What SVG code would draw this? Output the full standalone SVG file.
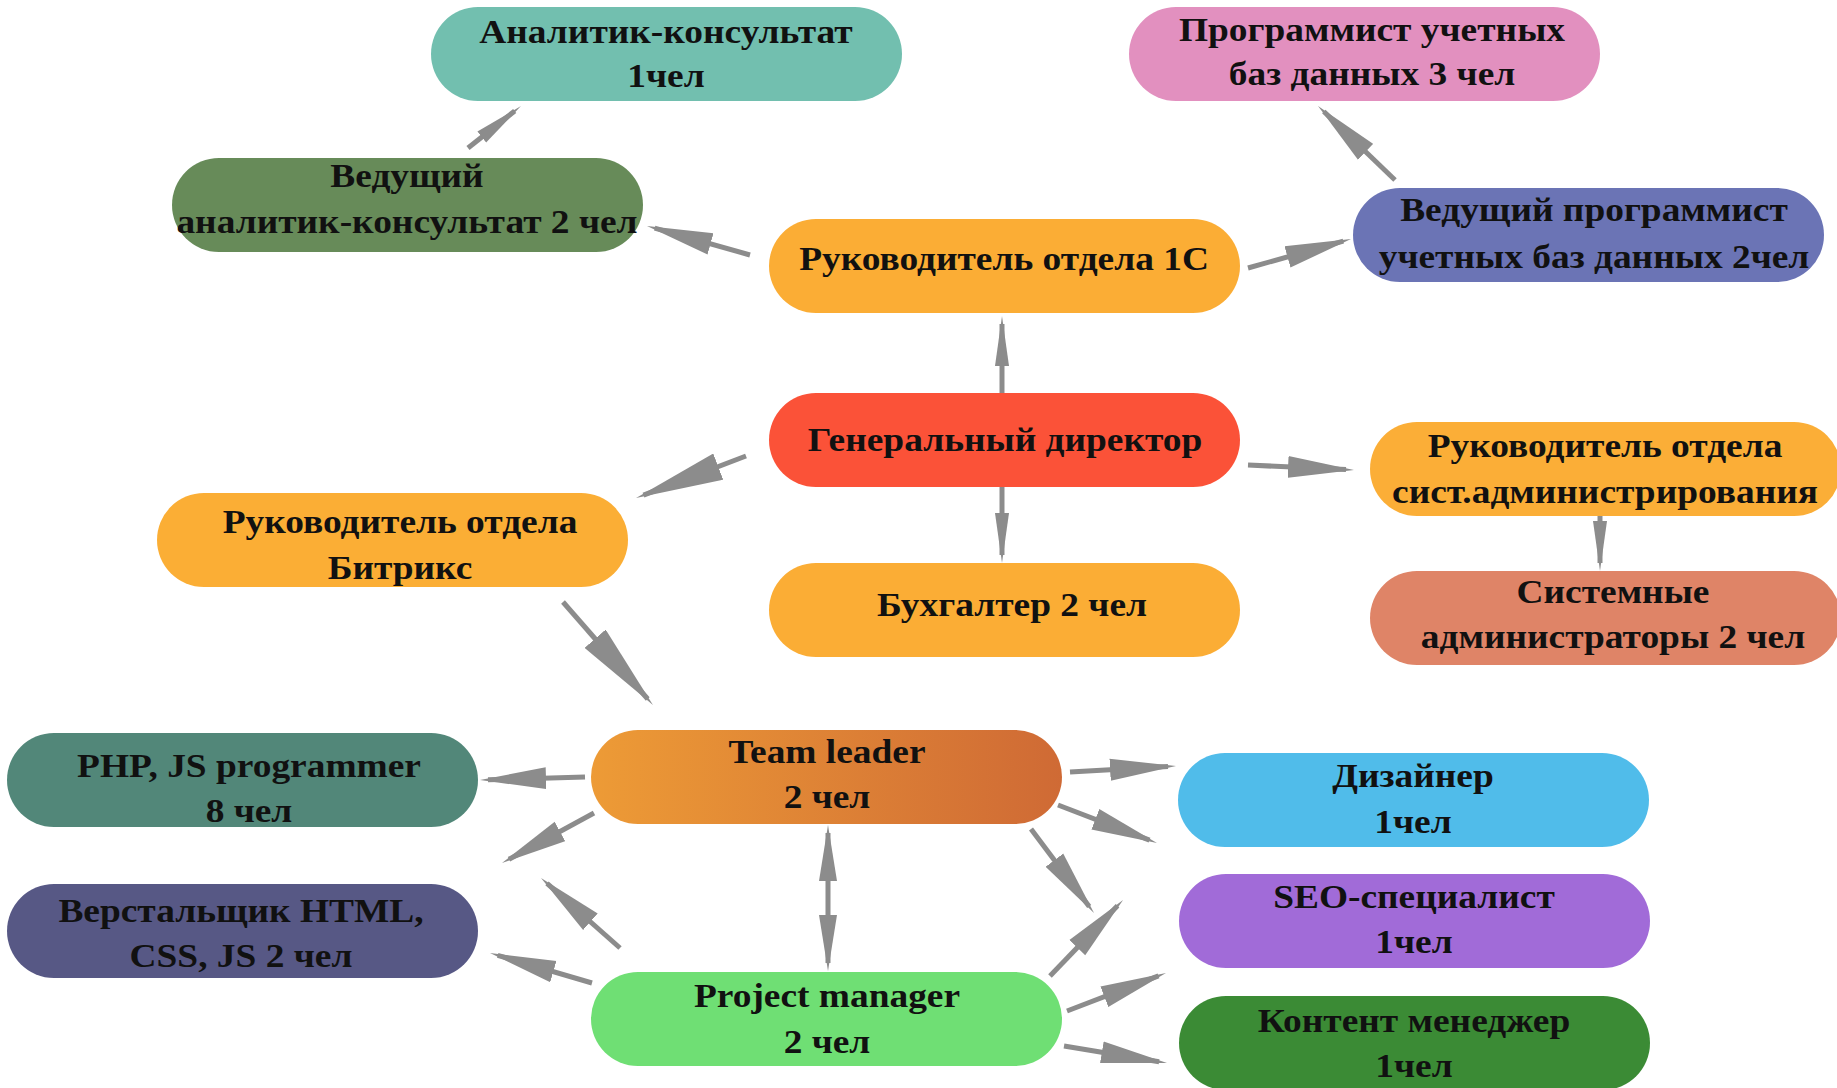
<svg xmlns="http://www.w3.org/2000/svg" width="1837" height="1088" viewBox="0 0 1837 1088">
<style>
.node rect{stroke:none}
.node text{font-family:"Liberation Serif","Times New Roman",serif;font-weight:bold;font-size:34px;fill:#111;text-anchor:middle}
.edge{fill:none;stroke:#8c8c8c;stroke-width:5}
</style>
<defs>
<linearGradient id="gTL" x1="0" y1="0" x2="1" y2="0">
<stop offset="0" stop-color="#ED9B36"/>
<stop offset="1" stop-color="#CF6A35"/>
</linearGradient>
<marker id="ah" markerUnits="userSpaceOnUse" markerWidth="66" markerHeight="24" viewBox="0 0 66 24" refX="58" refY="12" orient="auto"><path d="M0,1 L66,12 L0,23 Z" fill="#8c8c8c"/></marker>
<marker id="ad" markerUnits="userSpaceOnUse" markerWidth="56" markerHeight="20" viewBox="0 0 56 20" refX="48" refY="10" orient="auto-start-reverse"><path d="M0,1 L56,10 L0,19 Z" fill="#8c8c8c"/></marker>
<marker id="al" markerUnits="userSpaceOnUse" markerWidth="88" markerHeight="28" viewBox="0 0 88 28" refX="80" refY="14" orient="auto"><path d="M0,0 L88,14 L0,28 Z" fill="#8c8c8c"/></marker>
<marker id="av" markerUnits="userSpaceOnUse" markerWidth="50" markerHeight="16" viewBox="0 0 50 16" refX="42" refY="8" orient="auto"><path d="M0,1 L50,8 L0,15 Z" fill="#8c8c8c"/></marker>
</defs>
<rect width="1837" height="1088" fill="#fff"/>
<g id="connectors">
<path class="edge" d="M468,148 L514.7,111" marker-end="url(#av)"/>
<path class="edge" d="M750,255 L654.7,228.2" marker-end="url(#ah)"/>
<path class="edge" d="M1248,268 L1343.3,241.2" marker-end="url(#ah)"/>
<path class="edge" d="M1395,180 L1323.8,111.5" marker-end="url(#ah)"/>
<path class="edge" d="M1002,393 L1002,324" marker-end="url(#av)"/>
<path class="edge" d="M1002,487 L1002,555" marker-end="url(#av)"/>
<path class="edge" d="M746,456 L643.5,495.1" marker-end="url(#al)"/>
<path class="edge" d="M1248,465 L1346,469.6" marker-end="url(#ah)"/>
<path class="edge" d="M1600,516 L1600,563" marker-end="url(#av)"/>
<path class="edge" d="M563,602 L647.7,699" marker-end="url(#al)"/>
<path class="edge" d="M585,777 L488,779.8" marker-end="url(#ah)"/>
<path class="edge" d="M594,813 L509,859.2" marker-end="url(#ah)"/>
<path class="edge" d="M620,948 L547,883.3" marker-end="url(#ah)"/>
<path class="edge" d="M592,983 L497.7,955.3" marker-end="url(#ah)"/>
<path class="edge" d="M828,833 L828,963" marker-start="url(#ad)" marker-end="url(#ad)"/>
<path class="edge" d="M1070,772 L1168,766.5" marker-end="url(#ah)"/>
<path class="edge" d="M1058,805 L1149.5,840.1" marker-end="url(#ah)"/>
<path class="edge" d="M1031,829 L1089.2,906.6" marker-end="url(#ah)"/>
<path class="edge" d="M1050,976 L1117.5,905.8" marker-end="url(#ah)"/>
<path class="edge" d="M1067,1011 L1158.5,975.9" marker-end="url(#ah)"/>
<path class="edge" d="M1064,1046 L1159.1,1061.7" marker-end="url(#ah)"/>
</g>
<g id="n-analitik" class="node"><rect x="431" y="7" width="471" height="94" rx="47" fill="#72BFAF"/>
<text transform="translate(666,0) scale(1.1,1)"><tspan x="0" y="43">Аналитик-консультат</tspan><tspan x="0" y="87">1чел</tspan></text></g>
<g id="n-ved-analitik" class="node"><rect x="172" y="158" width="471" height="94" rx="47" fill="#678B59"/>
<text transform="translate(407,0) scale(1.1,1)"><tspan x="0" y="187">Ведущий</tspan><tspan x="0" y="233">аналитик-консультат 2 чел</tspan></text></g>
<g id="n-ruk-1c" class="node"><rect x="769" y="219" width="471" height="94" rx="47" fill="#FBAD35"/>
<text transform="translate(1004,0) scale(1.1,1)"><tspan x="0" y="270">Руководитель отдела 1С</tspan></text></g>
<g id="n-programmist" class="node"><rect x="1129" y="7" width="471" height="94" rx="47" fill="#E290BF"/>
<text transform="translate(1372,0) scale(1.1,1)"><tspan x="0" y="41">Программист учетных</tspan><tspan x="0" y="85">баз данных 3 чел</tspan></text></g>
<g id="n-ved-programmist" class="node"><rect x="1353" y="188" width="471" height="94" rx="47" fill="#6B74B5"/>
<text transform="translate(1594,0) scale(1.1,1)"><tspan x="0" y="221">Ведущий программист</tspan><tspan x="0" y="268">учетных баз данных 2чел</tspan></text></g>
<g id="n-gen" class="node"><rect x="769" y="393" width="471" height="94" rx="47" fill="#FB5238"/>
<text transform="translate(1005,0) scale(1.1,1)"><tspan x="0" y="451">Генеральный директор</tspan></text></g>
<g id="n-ruk-sysadm" class="node"><rect x="1370" y="422" width="471" height="94" rx="47" fill="#FBAE37"/>
<text transform="translate(1605,0) scale(1.1,1)"><tspan x="0" y="457">Руководитель отдела</tspan><tspan x="0" y="503">сист.администрирования</tspan></text></g>
<g id="n-sysadmins" class="node"><rect x="1370" y="571" width="471" height="94" rx="47" fill="#DF8467"/>
<text transform="translate(1613,0) scale(1.1,1)"><tspan x="0" y="603">Системные</tspan><tspan x="0" y="648">администраторы 2 чел</tspan></text></g>
<g id="n-buh" class="node"><rect x="769" y="563" width="471" height="94" rx="47" fill="#FBAD35"/>
<text transform="translate(1012,0) scale(1.1,1)"><tspan x="0" y="616">Бухгалтер 2 чел</tspan></text></g>
<g id="n-bitrix" class="node"><rect x="157" y="493" width="471" height="94" rx="47" fill="#FBAE35"/>
<text transform="translate(400,0) scale(1.1,1)"><tspan x="0" y="533">Руководитель отдела</tspan><tspan x="0" y="579">Битрикс</tspan></text></g>
<g id="n-teamleader" class="node"><rect x="591" y="730" width="471" height="94" rx="47" fill="url(#gTL)"/>
<text transform="translate(827,0) scale(1.1,1)"><tspan x="0" y="763">Team leader</tspan><tspan x="0" y="808">2 чел</tspan></text></g>
<g id="n-php" class="node"><rect x="7" y="733" width="471" height="94" rx="47" fill="#528779"/>
<text transform="translate(249,0) scale(1.1,1)"><tspan x="0" y="777">PHP, JS programmer</tspan><tspan x="0" y="822">8 чел</tspan></text></g>
<g id="n-verst" class="node"><rect x="7" y="884" width="471" height="94" rx="47" fill="#575885"/>
<text transform="translate(241,0) scale(1.1,1)"><tspan x="0" y="922">Верстальщик HTML,</tspan><tspan x="0" y="967">CSS, JS 2 чел</tspan></text></g>
<g id="n-pm" class="node"><rect x="591" y="972" width="471" height="94" rx="47" fill="#6FDF74"/>
<text transform="translate(827,0) scale(1.1,1)"><tspan x="0" y="1007">Project manager</tspan><tspan x="0" y="1053">2 чел</tspan></text></g>
<g id="n-design" class="node"><rect x="1178" y="753" width="471" height="94" rx="47" fill="#50BCEA"/>
<text transform="translate(1413,0) scale(1.1,1)"><tspan x="0" y="787">Дизайнер</tspan><tspan x="0" y="833">1чел</tspan></text></g>
<g id="n-seo" class="node"><rect x="1179" y="874" width="471" height="94" rx="47" fill="#A16BD8"/>
<text transform="translate(1414,0) scale(1.1,1)"><tspan x="0" y="908">SEO-специалист</tspan><tspan x="0" y="953">1чел</tspan></text></g>
<g id="n-content" class="node"><rect x="1179" y="996" width="471" height="94" rx="47" fill="#3B8B35"/>
<text transform="translate(1414,0) scale(1.1,1)"><tspan x="0" y="1032">Контент менеджер</tspan><tspan x="0" y="1077">1чел</tspan></text></g>
</svg>
